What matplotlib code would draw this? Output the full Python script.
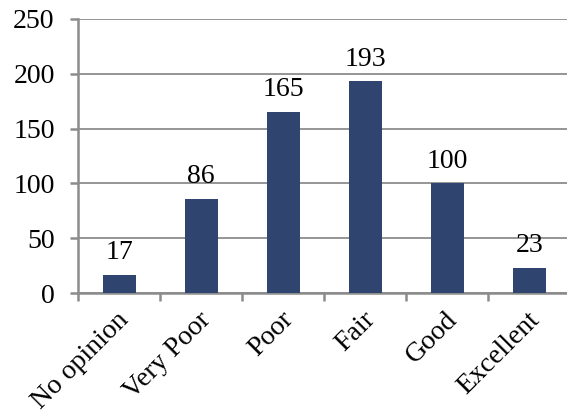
import matplotlib.pyplot as plt
import matplotlib.transforms as mtransforms
from matplotlib import font_manager
import numpy as np

categories = ["No opinion", "Very Poor", "Poor", "Fair", "Good", "Excellent"]
counts = [17, 86, 165, 193, 100, 23]

installed = {f.name for f in font_manager.fontManager.ttflist}
serif = [n for n in ["Liberation Serif", "Times New Roman", "Nimbus Roman", "DejaVu Serif"] if n in installed]
plt.rcParams["font.family"] = serif

fig = plt.figure(figsize=(5.67, 4.2), dpi=100)
ax = fig.add_axes([0.138, 0.302, 0.868, 0.653])

x = np.arange(len(categories))
ax.bar(x, counts, width=0.4, color="#304470", zorder=3)
for xi, v in zip(x, counts):
    ax.annotate(str(v), (xi, v), xytext=(0, 7), textcoords="offset points",
                ha="center", va="bottom", fontsize=20, zorder=4)

ax.set_xlim(-0.5, len(categories) - 0.5)
ax.set_ylim(0, 250)
ax.set_yticks(range(0, 251, 50))
ax.yaxis.grid(True, color="#8c8c8c", linewidth=1.3, zorder=0)

ax.set_xticks(x)
ax.set_xticklabels(categories, rotation=45, ha="right", rotation_mode="anchor")
ax.set_xticks(np.arange(-0.5, len(categories), 1.0), minor=True)
ax.tick_params(axis="x", which="major", length=0, pad=10, labelsize=20)
ax.tick_params(axis="x", which="minor", length=6, width=1.8, color="#8c8c8c", direction="out")
ax.tick_params(axis="y", length=6, width=1.8, color="#8c8c8c", labelsize=20, pad=11)

# nudge rotated labels slightly left
shift = mtransforms.ScaledTranslation(-2 / 72, 0, fig.dpi_scale_trans)
for lbl in ax.get_xticklabels():
    lbl.set_transform(lbl.get_transform() + shift)

for s in ["top", "right"]:
    ax.spines[s].set_visible(False)
for s in ["left", "bottom"]:
    ax.spines[s].set_color("#8c8c8c")
    ax.spines[s].set_linewidth(1.8)

fig.savefig("out.png", dpi=100)
